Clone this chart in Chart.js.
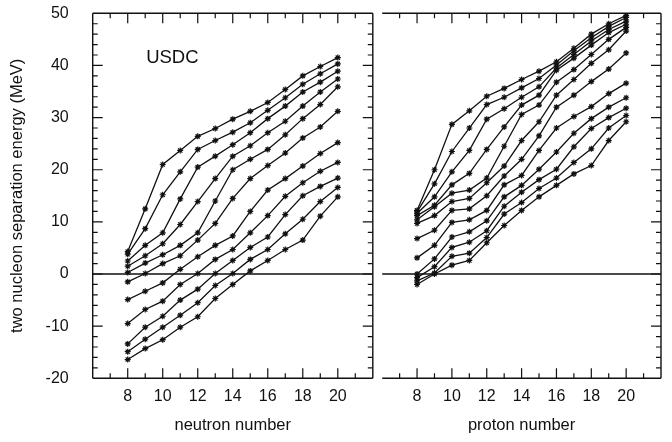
<!DOCTYPE html>
<html>
<head>
<meta charset="utf-8">
<title>Two nucleon separation energies</title>
<style>
  body { margin: 0; background: #fff; }
  #wrap { position: relative; width: 672px; height: 442px; }
  canvas { position: absolute; top: 0; }
  #left { left: 0; }
  #right { left: 377px; }
</style>
<script src="https://cdn.jsdelivr.net/npm/chart.js"></script>
</head>
<body>
<div id="wrap">
  <canvas id="left" width="378" height="442"></canvas>
  <canvas id="right" width="295" height="442"></canvas>
</div>
<script>
// x values shared by both panels
const neutronNumbers = [8, 9, 10, 11, 12, 13, 14, 15, 16, 17, 18, 19, 20];
const protonNumbers = [8, 9, 10, 11, 12, 13, 14, 15, 16, 17, 18, 19, 20];

const xTickLabels = [8, 10, 12, 14, 16, 18, 20];
const yTickLabels = [-20, -10, 0, 10, 20, 30, 40, 50];

// left panel: one curve per isotope chain (MeV)
const vsNeutron = [
  [4.3, 12.5, 21.0, 23.7, 26.4, 27.9, 29.7, 31.2, 32.9, 35.4, 38.0, 39.8, 41.5],
  [3.8, 8.7, 15.2, 19.6, 23.9, 25.6, 27.2, 29.0, 31.4, 33.8, 36.4, 38.4, 40.3],
  [2.5, 5.5, 7.9, 14.4, 20.5, 22.6, 24.8, 27.1, 29.8, 32.2, 34.9, 36.8, 38.9],
  [1.5, 3.5, 5.8, 9.5, 13.9, 18.3, 22.6, 24.6, 27.1, 29.3, 32.2, 34.9, 37.4],
  [0.3, 2.1, 3.7, 5.5, 7.9, 14.0, 20.0, 22.0, 23.9, 26.7, 29.8, 32.5, 35.9],
  [-1.5, 0.1, 2.0, 3.5, 6.5, 9.7, 14.5, 18.3, 20.8, 23.2, 26.1, 28.2, 31.2],
  [-4.9, -3.3, -1.7, 0.9, 3.3, 5.5, 7.3, 12.0, 16.1, 18.3, 20.7, 23.1, 25.2],
  [-9.5, -6.8, -5.2, -2.0, 0.1, 2.8, 4.7, 7.9, 11.2, 14.9, 17.5, 19.7, 21.4],
  [-13.4, -10.2, -8.1, -5.0, -2.9, 0.1, 2.6, 5.1, 7.1, 11.4, 15.0, 16.8, 18.4],
  [-14.9, -12.5, -10.2, -7.9, -5.5, -2.2, 0.1, 2.8, 4.7, 7.7, 10.5, 13.9, 16.6],
  [-16.4, -14.3, -12.6, -10.2, -8.2, -4.7, -2.0, 0.6, 2.6, 4.7, 6.5, 11.1, 14.8]
];

// right panel: one curve per isotone chain (MeV)
const vsProton = [
  [12.2, 20.0, 28.7, 31.3, 34.1, 35.6, 37.3, 38.9, 40.7, 43.3, 46.0, 48.0, 49.6],
  [11.9, 17.3, 23.5, 28.0, 32.5, 33.9, 35.7, 37.5, 40.1, 42.8, 45.3, 47.5, 49.2],
  [11.6, 14.8, 19.6, 23.7, 29.7, 31.7, 33.9, 35.9, 39.5, 42.1, 44.7, 46.9, 48.5],
  [11.2, 13.2, 17.1, 19.3, 23.9, 28.2, 32.4, 34.3, 39.1, 41.4, 43.9, 46.3, 47.9],
  [10.4, 12.9, 15.5, 16.1, 18.4, 24.5, 30.6, 32.4, 36.8, 39.2, 42.1, 45.0, 47.3],
  [9.7, 11.2, 13.9, 14.5, 17.5, 20.7, 25.6, 29.2, 34.3, 37.3, 40.4, 43.0, 46.6],
  [6.8, 8.4, 12.2, 12.5, 15.0, 18.8, 22.0, 26.5, 32.0, 34.3, 36.9, 39.3, 42.4],
  [3.1, 5.5, 9.9, 10.4, 12.2, 17.1, 18.9, 23.7, 28.0, 30.2, 32.1, 34.6, 36.6],
  [0.0, 2.9, 7.1, 8.1, 10.2, 14.8, 17.0, 20.1, 23.4, 27.0, 29.8, 32.0, 33.8],
  [-0.7, 1.4, 5.1, 6.1, 8.3, 13.0, 15.7, 18.1, 20.1, 24.4, 27.9, 30.0, 31.8],
  [-1.3, 0.2, 3.4, 4.0, 7.0, 11.5, 13.7, 16.4, 18.4, 21.4, 24.0, 28.0, 30.4],
  [-2.0, 0.0, 1.7, 2.6, 6.0, 9.3, 12.2, 14.8, 17.0, 19.2, 20.8, 25.6, 29.2]
];

const FONT = "'Liberation Sans', Arial, Helvetica, sans-serif";
const INK = '#111';

// box, inward ticks and the zero line
const framePlugin = {
  id: 'frame',
  afterDatasetsDraw(chart, args, opts) {
    const {ctx, chartArea: a, scales: {x, y}} = chart;
    ctx.save();
    ctx.strokeStyle = INK;
    ctx.lineWidth = 1.4;

    const y0 = y.getPixelForValue(0);
    ctx.beginPath();
    ctx.moveTo(a.left, y0);
    ctx.lineTo(a.right, y0);
    ctx.stroke();

    ctx.beginPath();
    ctx.moveTo(a.left, a.top); ctx.lineTo(a.right, a.top);
    ctx.moveTo(a.left, a.bottom); ctx.lineTo(a.right, a.bottom);
    ctx.moveTo(a.right, a.top); ctx.lineTo(a.right, a.bottom);
    if (opts.leftSide) { ctx.moveTo(a.left, a.top); ctx.lineTo(a.left, a.bottom); }
    ctx.stroke();

    ctx.lineWidth = 1.2;
    ctx.beginPath();
    for (let v = 7; v <= 21; v++) {
      const px = x.getPixelForValue(v);
      const len = v % 2 === 0 ? 10 : 5;
      ctx.moveTo(px, a.top); ctx.lineTo(px, a.top + len);
      ctx.moveTo(px, a.bottom); ctx.lineTo(px, a.bottom - len);
    }
    for (let v = -18; v <= 48; v += 2) {
      const py = y.getPixelForValue(v);
      const len = v % 10 === 0 ? 10 : 5;
      if (opts.leftSide) { ctx.moveTo(a.left, py); ctx.lineTo(a.left + len, py); }
      ctx.moveTo(a.right, py); ctx.lineTo(a.right - len, py);
    }
    ctx.stroke();

    if (opts.label) {
      ctx.fillStyle = INK;
      ctx.font = '18.5px ' + FONT;
      ctx.textAlign = 'center';
      ctx.textBaseline = 'middle';
      ctx.fillText(opts.label.text, x.getPixelForValue(opts.label.x), y.getPixelForValue(opts.label.y));
    }
    ctx.restore();
  }
};

function makeDatasets(xs, curves) {
  return curves.map(vals => ({
    data: xs.map((v, i) => ({x: v, y: vals[i]})),
    borderColor: INK,
    borderWidth: 1.3,
    pointStyle: 'star',
    pointRadius: 3,
    pointBorderWidth: 1.2,
    pointBorderColor: INK,
    fill: false,
    tension: 0
  }));
}

function xScale(title) {
  return {
    type: 'linear', min: 6, max: 22,
    grid: {display: false, drawTicks: false},
    border: {display: false},
    ticks: {
      stepSize: 2, autoSkip: false, maxRotation: 0, padding: 9, color: INK,
      font: {family: FONT, size: 16},
      callback: v => xTickLabels.includes(v) ? String(v) : ''
    },
    title: {display: true, text: title, color: INK, font: {family: FONT, size: 16.5}, padding: {top: 0, bottom: 0}},
    afterFit: s => {
      s.height = 56.7;
      s.paddingLeft = 0;
      s.paddingRight = 0;
    }
  };
}

const common = {
  responsive: false,
  animation: false,
  plugins: {legend: {display: false}, tooltip: {enabled: false}}
};

new Chart(document.getElementById('left'), {
  type: 'line',
  data: {datasets: makeDatasets(neutronNumbers, vsNeutron)},
  options: {
    ...common,
    layout: {padding: {top: 13.3, right: 0.7, bottom: 7, left: 0}},
    plugins: {...common.plugins, frame: {leftSide: true, label: {text: 'USDC', x: 10.55, y: 41.4}}},
    scales: {
      x: xScale('neutron number'),
      y: {
        min: -20, max: 50,
        grid: {display: false, drawTicks: false},
        border: {display: false},
        ticks: {
          stepSize: 10, padding: 24, color: INK, font: {family: FONT, size: 16},
          callback: v => yTickLabels.includes(v) ? String(v) : ''
        },
        title: {display: true, text: 'two nucleon separation energy (MeV)', color: INK,
          font: {family: FONT, size: 16.5}, padding: {top: 8, bottom: 0}},
        afterFit: s => {
          s.width = 92.7;
          s.paddingTop = 0;
          s.paddingBottom = 0;
        }
      }
    }
  },
  plugins: [framePlugin]
});

new Chart(document.getElementById('right'), {
  type: 'line',
  data: {datasets: makeDatasets(protonNumbers, vsProton)},
  options: {
    ...common,
    layout: {padding: {top: 13.3, right: 11, bottom: 7, left: 0}},
    plugins: {...common.plugins, frame: {leftSide: false}},
    scales: {
      x: xScale('proton number'),
      y: {display: false, min: -20, max: 50}
    }
  },
  plugins: [framePlugin]
});
</script>
</body>
</html>
